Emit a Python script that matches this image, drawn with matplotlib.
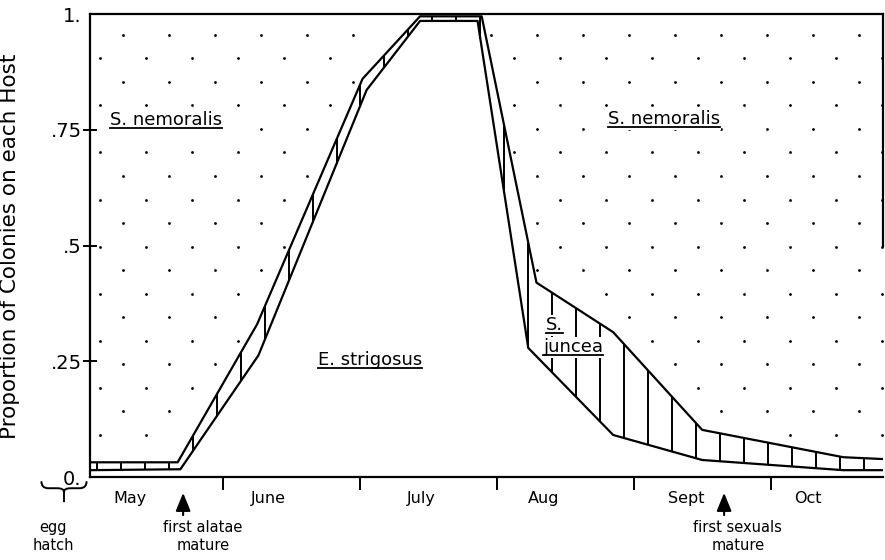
import numpy as np
import matplotlib.pyplot as plt
from matplotlib.path import Path
from matplotlib.patches import PathPatch

# x axis is in months counted from the start of May
month_names = ['May', 'June', 'July', 'Aug', 'Sept', 'Oct']
month_label_x = [0.32, 1.33, 2.45, 3.34, 4.38, 5.27]
month_bounds = [1, 2, 3, 4, 5]

# proportion on E. strigosus (lower line)
strig_x = [0.03, 0.69, 1.26, 2.05, 2.44, 2.86, 3.23, 3.85, 4.50, 5.53, 5.82]
strig_y = [0.015, 0.017, 0.263, 0.836, 0.985, 0.985, 0.279, 0.091, 0.037, 0.015, 0.015]

# E. strigosus + S. juncea (upper line), S. nemoralis is the rest
junc_x = [0.03, 0.67, 1.25, 2.02, 2.44, 2.89, 3.29, 3.85, 4.50, 5.53, 5.82]
junc_y = [0.032, 0.032, 0.33, 0.86, 0.995, 0.995, 0.42, 0.313, 0.102, 0.043, 0.039]

ytick_vals = [0, 0.25, 0.5, 0.75, 1.0]
ytick_labels = ['0.', '.25', '.5', '.75', '1.']

alatae_x = 0.71   # first alatae mature
sexuals_x = 4.66  # first sexuals mature
hatch_x = -0.16   # egg hatch

fig, ax = plt.subplots(figsize=(8.85, 5.6), dpi=100)
fig.subplots_adjust(left=0.1017, right=0.9977, bottom=0.148, top=0.975)
ax.set_xlim(0.03, 5.82)
ax.set_ylim(0, 1)

# boundary lines
ax.plot(strig_x, strig_y, color='k', lw=1.6, zorder=6)
ax.plot(junc_x, junc_y, color='k', lw=1.6, zorder=6)

# vertical hatching for S. juncea band
hx = np.arange(0.08, 5.8, 0.175)
lo = np.interp(hx, strig_x, strig_y)
hi = np.interp(hx, junc_x, junc_y)
ax.vlines(hx, lo, hi, colors='k', lw=1.4, zorder=2)

# stipple for S. nemoralis region
dot_x, dot_y = [], []
for i, p in enumerate(np.arange(0.955, 0.0, -0.0508)):
    xs = np.arange(0.27 if i % 2 == 0 else 0.10, 5.82, 0.336)
    keep = p > np.interp(xs, junc_x, junc_y) + 0.015
    dot_x.extend(xs[keep])
    dot_y.extend([p] * keep.sum())
ax.plot(dot_x, dot_y, 'o', color='k', ms=2.0, mew=0, zorder=1)

# axes styling
for s in ax.spines.values():
    s.set_linewidth(1.6)
ax.spines['right'].set_bounds(0.5, 1.0)

ax.set_yticks(ytick_vals, ytick_labels)
ax.tick_params(axis='y', direction='inout', length=10, width=1.4, labelsize=14, pad=1)
yt = ax.yaxis.get_major_ticks()
yt[0].tick1line.set_visible(False)
yt[-1].tick1line.set_visible(False)

ax.set_xticks(month_bounds, [''] * len(month_bounds))
ax.set_xticks(month_label_x, month_names, minor=True)
ax.tick_params(axis='x', which='major', direction='out', length=9.5, width=1.4)
ax.tick_params(axis='x', which='minor', length=0, labelsize=11.5, pad=10)

fig.text(10 / 885, 1 - 246 / 560, 'Proportion of Colonies on each Host',
         rotation=90, ha='center', va='center', fontsize=15.5)

# host labels
box = dict(facecolor='white', edgecolor='none', pad=1)
labels = [
    ax.text(0.175, 0.760, 'S. nemoralis', fontsize=13, va='baseline', bbox=box, zorder=5),
    ax.text(3.81, 0.762, 'S. nemoralis', fontsize=13, va='baseline', bbox=box, zorder=5),
    ax.text(1.693, 0.242, 'E. strigosus', fontsize=13, va='baseline', bbox=box, zorder=5),
    ax.text(3.358, 0.317, 'S.', fontsize=13, va='baseline', bbox=box, zorder=5),
    ax.text(3.336, 0.270, 'juncea', fontsize=13, va='baseline', bbox=box, zorder=5),
]
fig.canvas.draw()
renderer = fig.canvas.get_renderer()
inv = ax.transData.inverted()
for t in labels:
    bb = t.get_window_extent(renderer)
    _, yb = ax.transData.transform(t.get_position())
    (x0, y0), (x1, _) = inv.transform([(bb.x0, yb - 3), (bb.x1, yb - 3)])
    ax.plot([x0, x1], [y0, y0], color='k', lw=1.3, zorder=7)

# notes below the axis
xt = ax.get_xaxis_transform()
arrow = dict(arrowstyle='-|>,head_length=1.1,head_width=0.45', color='k', lw=1.5,
             shrinkA=0, shrinkB=0)
for ax_x in (alatae_x, sexuals_x):
    ax.annotate('', xy=(ax_x, -0.034), xytext=(ax_x, -0.082), xycoords=xt,
                textcoords=xt, arrowprops=arrow, annotation_clip=False)
ax.text(0.855, -0.092, 'first alatae\nmature', transform=xt, ha='center', va='top',
        fontsize=10.5, linespacing=1.3)
ax.text(4.76, -0.092, 'first sexuals\nmature', transform=xt, ha='center', va='top',
        fontsize=10.5, linespacing=1.3)
ax.text(hatch_x - 0.08, -0.092, 'egg\nhatch', transform=xt, ha='center', va='top',
        fontsize=10.5, linespacing=1.3)

# brace under the 0
xl, xr, xc = hatch_x - 0.165, hatch_x + 0.165, hatch_x
y_top, y_mid, y_tip, y_end = -0.009, -0.024, -0.032, -0.054
verts = [(xl, y_top), (xl, y_mid), (xl + 0.05, y_mid),
         (xc - 0.05, y_mid), (xc, y_mid), (xc, y_tip),
         (xc, y_mid), (xc + 0.05, y_mid),
         (xr - 0.05, y_mid), (xr, y_mid), (xr, y_top),
         (xc, y_tip), (xc, y_end)]
codes = [Path.MOVETO, Path.CURVE3, Path.CURVE3,
         Path.LINETO, Path.CURVE3, Path.CURVE3,
         Path.CURVE3, Path.CURVE3,
         Path.LINETO, Path.CURVE3, Path.CURVE3,
         Path.MOVETO, Path.LINETO]
ax.add_patch(PathPatch(Path(verts, codes), transform=xt, fill=False, lw=1.4,
                       clip_on=False))

fig.savefig('out.png', dpi=100)
